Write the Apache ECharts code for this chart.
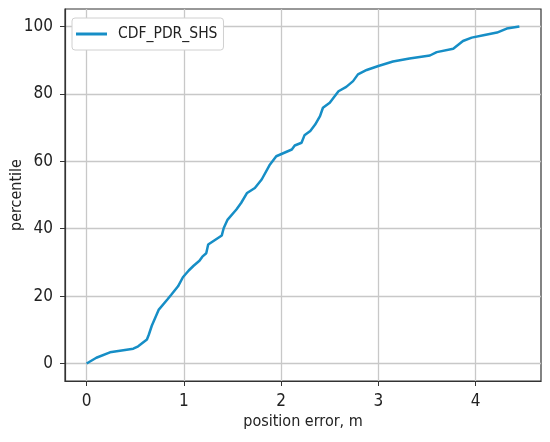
<!DOCTYPE html>
<html lang="en">
<head>
    <meta charset="UTF-8"/>
    <title>CDF_PDR_SHS</title>
    <script src="https://cdn.jsdelivr.net/npm/echarts@6/dist/echarts.min.js"></script>
    <style>
        html, body { margin: 0; padding: 0; background: #fff; }
        #chart { width: 550px; height: 442px; }
    </style>
</head>
<body>
<div id="chart"></div>
<script type="text/javascript">
    // 误差 (m) 与百分位
    var errorX = [0, 0.1, 0.24, 0.48, 0.53, 0.62, 0.64, 0.67, 0.74, 0.83, 0.87, 0.94, 0.99, 1.05, 1.10,
        1.16, 1.19, 1.23, 1.25, 1.39, 1.41, 1.45, 1.54, 1.59, 1.65, 1.73, 1.80, 1.88, 1.95, 2.11,
        2.14, 2.21, 2.24, 2.30, 2.35, 2.40, 2.43, 2.50, 2.59, 2.67, 2.74, 2.79, 2.88, 3.0, 3.15,
        3.32, 3.53, 3.60, 3.77, 3.87, 3.96, 4.08, 4.22, 4.32, 4.45];
    var percentY = [0, 1.7, 3.3, 4.4, 5.1, 7.1, 8.6, 11.2, 15.9, 19.0, 20.4, 22.9, 25.6, 27.6, 29.0,
        30.5, 31.7, 32.7, 35.3, 38.0, 40.2, 42.7, 45.7, 47.7, 50.6, 52.1, 54.6, 58.8, 61.5, 63.5,
        64.7, 65.5, 67.7, 69.0, 70.9, 73.4, 75.9, 77.4, 80.8, 82.1, 83.8, 85.8, 87.1, 88.3, 89.6,
        90.5, 91.4, 92.4, 93.4, 95.7, 96.7, 97.4, 98.2, 99.4, 100];
    var xTicks = [0, 1, 2, 3, 4];
    var yTicks = [0, 20, 40, 60, 80, 100];

    var seriesData = [];
    for (var i = 0; i < errorX.length; i++) {
        seriesData.push([errorX[i], percentY[i]]);
    }

    var font = "'DejaVu Sans Condensed', 'Liberation Sans Narrow', 'DejaVu Sans', sans-serif";
    var myChart = echarts.init(document.getElementById('chart'), null, {renderer: 'canvas'});
    var option = {
        backgroundColor: '#fff',
        animation: false,
        grid: {
            left: 65, right: 9, top: 9, bottom: 61,
            containLabel: false,
            outerBoundsMode: 'none',
            show: true, borderColor: '#333', borderWidth: 1.2, backgroundColor: '#fff'
        },
        legend: {
            left: 72, top: 18,
            orient: 'vertical',
            padding: [8, 6, 8, 4],
            backgroundColor: '#fff',
            borderColor: '#d0d0d0',
            borderWidth: 1,
            borderRadius: 3,
            icon: 'rect',
            itemWidth: 31,
            itemHeight: 3,
            textStyle: {fontFamily: font, fontSize: 15.5, color: '#222', padding: [0, 0, 0, 6]},
            data: ['CDF_PDR_SHS']
        },
        xAxis: {
            type: 'value',
            min: -0.2225, max: 4.6725,
            name: 'position error, m',
            nameLocation: 'middle',
            nameGap: 33,
            nameMoveOverlap: false,
            nameTextStyle: {fontFamily: font, fontSize: 16, color: '#222'},
            axisLine: {show: true, onZero: false, lineStyle: {color: '#333', width: 1.2}},
            axisTick: {show: true, length: 5, customValues: xTicks, lineStyle: {color: '#333'}},
            axisLabel: {customValues: xTicks, margin: 12, fontFamily: font, fontSize: 17, color: '#222'},
            splitLine: {show: true, customValues: xTicks, lineStyle: {color: '#c8c8c8', width: 1.3}}
        },
        yAxis: {
            type: 'value',
            min: -5.2, max: 105.2,
            name: 'percentile',
            nameLocation: 'middle',
            nameGap: 40,
            nameMoveOverlap: false,
            nameTextStyle: {fontFamily: font, fontSize: 16, color: '#222'},
            axisLine: {show: true, onZero: false, lineStyle: {color: '#333', width: 1.2}},
            axisTick: {show: true, length: 5, customValues: yTicks, lineStyle: {color: '#333'}},
            axisLabel: {customValues: yTicks, margin: 12, fontFamily: font, fontSize: 17, color: '#222'},
            splitLine: {show: true, customValues: yTicks, lineStyle: {color: '#c8c8c8', width: 1.3}}
        },
        series: [
            {
                name: 'CDF_PDR_SHS',
                type: 'line',
                data: seriesData,
                symbol: 'none',
                itemStyle: {color: '#168ec6'},
                lineStyle: {color: '#168ec6', width: 2.5}
            }
        ]
    };
    myChart.setOption(option);
</script>
</body>
</html>
